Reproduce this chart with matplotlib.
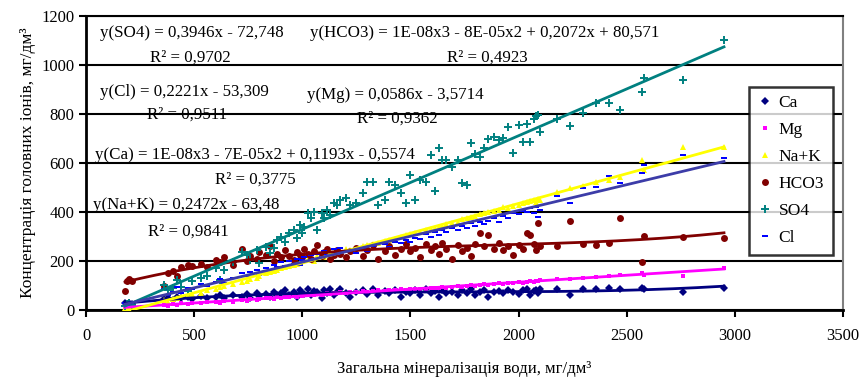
import numpy as np
import matplotlib
matplotlib.use("Agg")
import matplotlib.pyplot as plt
from matplotlib.path import Path

plt.rcParams['font.family'] = ['Liberation Serif', 'DejaVu Serif']

# total mineralization of water, mg/dm3 (one value per sample)
tds = [180, 190, 200, 210, 360, 380, 400, 420, 440, 470, 490, 530, 560, 600, 620, 640,
       680, 720, 745, 760, 790, 800, 830, 850, 870, 885, 900, 920, 940, 960, 975, 990,
       1000, 1010, 1025, 1040, 1055, 1070, 1090, 1100, 1115, 1130, 1145, 1160, 1175, 1200,
       1220, 1250, 1280, 1300, 1325, 1350, 1380, 1400, 1430, 1455, 1480, 1500, 1520, 1545,
       1570, 1595, 1615, 1630, 1645, 1665, 1690,
       1720, 1740, 1760, 1780, 1800, 1820, 1840, 1860, 1885, 1910, 1930, 1950, 1975, 2000,
       2020, 2040, 2055, 2070, 2080, 2090, 2100,
       2180, 2240, 2300, 2360, 2420, 2470, 2570, 2580, 2760, 2950]

ca = [28, 22, 30, 25, 45, 50, 40, 55, 48, 52, 45, 58, 50, 55, 62, 48,
      60, 55, 65, 50, 70, 58, 65, 55, 72, 60, 68, 80, 62, 75, 55, 82,
      70, 65, 85, 60, 78, 72, 50, 80, 68, 85, 62, 75, 88, 70,
      55, 75, 80, 65, 85, 60, 78, 70, 82, 55, 75, 68, 80, 62,
      85, 70, 78, 55, 82, 68, 75,
      60, 80, 70, 85, 60, 75, 80, 55, 72, 78, 68, 82, 75, 65,
      80, 85, 60, 78, 82, 70, 86,
      86, 61, 86, 86, 90, 86, 90, 88, 75, 92]

mg = [12, 8, 10, 15, 20, 18, 25, 22, 28, 25, 30, 27, 32, 35, 30, 38,
      35, 40, 38, 45, 42, 45, 48, 50, 46, 52, 50, 55, 52, 58, 55, 60,
      58, 62, 60, 64, 62, 66, 60, 65, 68, 66, 70, 68, 72, 70,
      74, 72, 76, 75, 78, 80, 78, 82, 80, 84, 82, 86, 85, 88,
      86, 90, 92, 90, 94, 92, 96,
      98, 96, 100, 102, 100, 104, 106, 104, 108, 110, 108, 112, 110, 114,
      112, 116, 118, 116, 120, 118, 122,
      125, 128, 132, 135, 140, 145, 150, 145, 140, 172]

nak = [8, 14, 5, 12, 40, 35, 45, 50, 55, 60, 65, 70, 80, 85, 95, 100,
       105, 115, 120, 125, 130, 140, 150, 155, 160, 165, 170, 175, 180, 185, 190, 195,
       200, 205, 210, 215, 200, 220, 225, 215, 230, 235, 230, 245, 240, 250,
       245, 255, 260, 265, 270, 275, 280, 285, 290, 300, 305, 310, 315, 320,
       325, 330, 335, 340, 345, 350, 355,
       360, 370, 375, 380, 385, 390, 395, 400, 405, 410, 420, 415, 425, 430,
       435, 440, 445, 450, 440, 455, 450,
       480, 498, 505, 522, 530, 543, 612, 571, 665, 665]

hco3 = [78, 120, 125, 118, 100, 150, 160, 140, 175, 185, 180, 190, 175, 205, 195, 215,
        185, 250, 200, 220, 210, 235, 225, 260, 200, 230, 215, 245, 220, 205, 235, 225,
        215, 250, 230, 210, 240, 265, 220, 235, 250, 210, 225, 245, 230, 215,
        240, 255, 220, 245, 265, 210, 240, 260, 225, 250, 270, 240, 255, 215,
        270, 245, 260, 230, 275, 250, 210,
        265, 240, 255, 220, 270, 314, 260, 306, 250, 275, 245, 260, 225, 265,
        250, 314, 306, 270, 245, 355, 260,
        260, 363, 270, 265, 275, 375, 196, 302, 300, 294]

so4 = [18, 25, 30, 22, 102, 82, 90, 122, 94, 78, 120, 131, 140, 171, 122, 163,
       196, 237, 224, 204, 245, 192, 257, 233, 253, 286, 298, 278, 314, 327, 294, 347,
       314, 339, 396, 376, 400, 327, 396, 376, 408, 388, 437, 429, 449, 457,
       429, 437, 478, 522, 522, 429, 449, 522, 510, 478, 437, 551, 449, 531,
       522, 633, 486, 661, 612, 612, 584,
       612, 518, 510, 682, 637, 624, 661, 700, 706, 694, 702, 747, 641, 757,
       686, 760, 686, 780, 790, 795, 727,
       780, 751, 804, 845, 845, 816, 890, 947, 939, 1100]

cl = [30, 20, 25, 32, 85, 60, 75, 95, 70, 90, 85, 105, 100, 115, 125, 110,
      130, 150, 140, 155, 165, 145, 170, 160, 185, 175, 195, 180, 200, 190, 210, 185,
      205, 215, 200, 225, 210, 230, 215, 240, 225, 235, 250, 230, 255, 240,
      240, 232, 250, 240, 262, 248, 268, 258, 278, 272, 286, 278, 296, 288,
      312, 300, 318, 305, 326, 320, 335,
      325, 345, 335, 355, 345, 360, 350, 365, 375, 360, 385, 375, 395, 390,
      405, 400, 415, 395, 420, 380, 410,
      465, 437, 498, 502, 547, 518, 560, 592, 633, 620]

# name, values, marker, size, colour, trend colour, trend degree
series = [
    ("Ca", ca, "D", 4, "#000080", "#000080", 3),
    ("Mg", mg, "s", 2.2, "#FF00FF", "#FF00FF", 1),
    ("Na+K", nak, "^", 4, "#FFFF00", "#FFFF00", 1),
    ("HCO3", hco3, "o", 5, "#800000", "#800000", 3),
    ("SO4", so4, "+", 6, "#008080", "#008080", 1),
    ("Cl", cl, "rect", 4, "#0000FF", "#3C3CA8", 1),
]

labels = [
    (65, 1130, "y(SO4) = 0,3946x - 72,748"),
    (296, 1028, "R² = 0,9702"),
    (1037, 1130, "y(HCO3) = 1E-08x3 - 8E-05x2 + 0,2072x + 80,571"),
    (1671, 1028, "R² = 0,4923"),
    (65, 890, "y(Cl) = 0,2221x - 53,309"),
    (282, 796, "R² = 0,9511"),
    (1023, 878, "y(Mg) = 0,0586x - 3,5714"),
    (1255, 780, "R² = 0,9362"),
    (42, 633, "y(Ca) = 1E-08x3 - 7E-05x2 + 0,1193x - 0,5574"),
    (597, 531, "R² = 0,3775"),
    (32, 429, "y(Na+K) = 0,2472x - 63,48"),
    (287, 318, "R² = 0,9841"),
]

rect = Path([(-1, -0.5), (1, -0.5), (1, 0.5), (-1, 0.5), (-1, -0.5)],
            [Path.MOVETO, Path.LINETO, Path.LINETO, Path.LINETO, Path.CLOSEPOLY])

fig = plt.figure(figsize=(8.61, 3.8), dpi=100)
ax = fig.add_axes([0.1, 0.184, 0.879, 0.774])

x = np.array(tds, dtype=float)
handles = []
for name, vals, mk, ms, col, tcol, deg in series:
    m = rect if mk == "rect" else mk
    if mk == "+":
        h, = ax.plot(x, vals, ls="none", marker=m, ms=ms, mew=1.4, color=col, label=name, zorder=3)
    else:
        h, = ax.plot(x, vals, ls="none", marker=m, ms=ms, mew=0, color=col, label=name, zorder=3)
    handles.append(h)

# trend lines on top of the points
for name, vals, mk, ms, col, tcol, deg in series:
    coef = np.polyfit(x, vals, deg)
    xs = np.linspace(x.min(), x.max(), 200)
    ax.plot(xs, np.polyval(coef, xs), color=tcol, lw=2, zorder=4)

for tx, ty, s in labels:
    ax.text(tx, ty, s, fontsize=12.2, ha="left", va="center", zorder=5)

ax.set_xlim(0, 3500)
ax.set_ylim(0, 1200)
ax.set_xticks(range(0, 3501, 500))
ax.set_yticks(range(0, 1201, 200))
ax.tick_params(labelsize=12, direction="out", length=5, width=1.5, color="black")
ax.tick_params(axis="x", pad=8)
ax.yaxis.grid(True, color="black", lw=1.5, zorder=1)
ax.set_axisbelow(True)

for side in ["left", "bottom"]:
    ax.spines[side].set_linewidth(2)
    ax.spines[side].set_color("black")
ax.spines["top"].set_linewidth(1.5)
ax.spines["top"].set_color("black")
ax.spines["right"].set_linewidth(1.5)
ax.spines["right"].set_color("#808080")

ax.set_xlabel("Загальна мінералізація води, мг/дм³", fontsize=12, labelpad=12)
ax.set_ylabel("Концентрація головних іонів, мг/дм³", fontsize=12.5, labelpad=4)

leg = ax.legend(handles=handles, loc="upper left", bbox_to_anchor=(0.876, 0.76),
                fontsize=12.5, frameon=True, fancybox=False, labelspacing=0.62,
                handlelength=0.8, handletextpad=0.4, borderpad=0.5, borderaxespad=0,
                markerscale=1.0)
leg.get_frame().set_edgecolor("black")
leg.get_frame().set_linewidth(1.8)
leg.set_zorder(6)

fig.savefig("out.png", dpi=100)
